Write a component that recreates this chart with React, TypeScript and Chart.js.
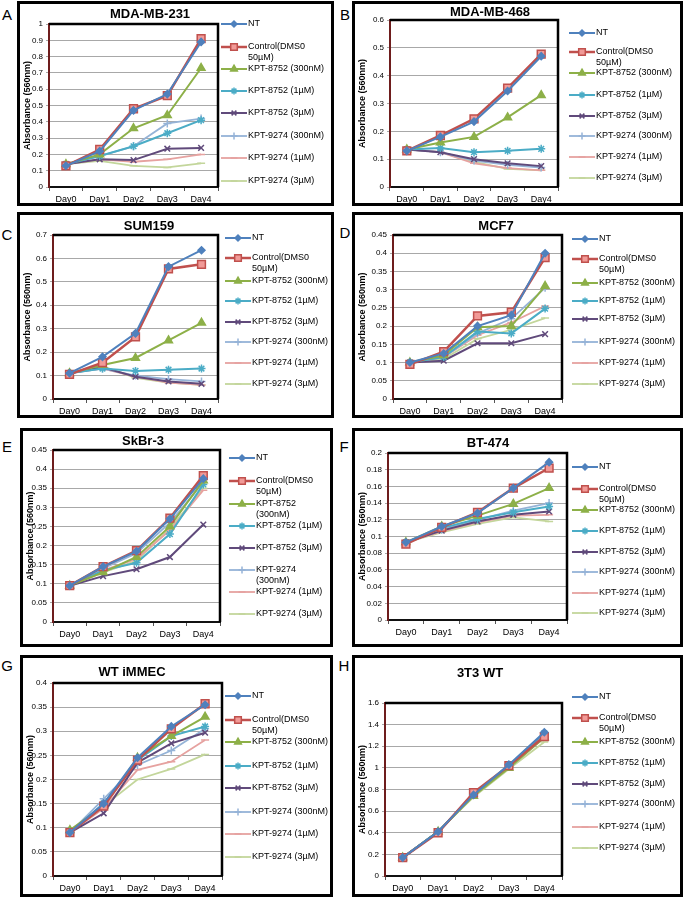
import React, { useEffect, useRef } from "react";
import { Chart, registerables } from "chart.js";
import { drawPoint } from "chart.js/helpers";
Chart.register(...registerables);

const FONT = "'Liberation Sans', Arial, sans-serif";
Chart.defaults.font.family = FONT;

// ---------- data ----------
const DAYS = ["Day0", "Day1", "Day2", "Day3", "Day4"];
const SERIES_LABELS = [
  "NT",
  "Control(DMS0\n50µM)",
  "KPT-8752 (300nM)",
  "KPT-8752 (1µM)",
  "KPT-8752 (3µM)",
  "KPT-9274 (300nM)",
  "KPT-9274 (1µM)",
  "KPT-9274 (3µM)",
];
const AXIS_TITLE = "Absorbance (560nm)";
const PANEL_TITLES = ["MDA-MB-231", "MDA-MB-468", "SUM159", "MCF7", "SkBr-3", "BT-474", "WT iMMEC", "3T3 WT"];
const PANEL_LETTERS = ["A", "B", "C", "D", "E", "F", "G", "H"];
const Y_MAX = [1, 0.6, 0.7, 0.45, 0.45, 0.2, 0.4, 1.6];
const Y_STEP = [0.1, 0.1, 0.1, 0.05, 0.05, 0.02, 0.05, 0.2];

// series order: NT, Control, 8752 300nM, 8752 1µM, 8752 3µM, 9274 300nM, 9274 1µM, 9274 3µM
const MDA231 = [
  [0.13, 0.22, 0.47, 0.57, 0.89],
  [0.13, 0.23, 0.48, 0.56, 0.91],
  [0.14, 0.2, 0.36, 0.44, 0.73],
  [0.14, 0.19, 0.25, 0.33, 0.41],
  [0.14, 0.17, 0.165, 0.235, 0.24],
  [0.14, 0.19, 0.25, 0.39, 0.42],
  [0.14, 0.17, 0.155, 0.17, 0.2],
  [0.14, 0.16, 0.13, 0.12, 0.145],
];
const MDA468 = [
  [0.13, 0.18, 0.235, 0.345, 0.47],
  [0.13, 0.185, 0.245, 0.355, 0.477],
  [0.135, 0.16, 0.18, 0.25, 0.33],
  [0.135, 0.14, 0.125, 0.13, 0.137],
  [0.135, 0.125, 0.1, 0.085, 0.075],
  [0.135, 0.125, 0.095, 0.08, 0.07],
  [0.135, 0.125, 0.085, 0.068, 0.06],
  [0.135, 0.125, 0.09, 0.065, 0.06],
];
const SUM159 = [
  [0.11, 0.18, 0.28, 0.565, 0.635],
  [0.105, 0.155, 0.265, 0.555, 0.575],
  [0.11, 0.145, 0.175, 0.25, 0.325],
  [0.11, 0.13, 0.12, 0.125, 0.13],
  [0.11, 0.135, 0.095, 0.075, 0.065],
  [0.11, 0.13, 0.1, 0.085, 0.075],
  [0.11, 0.13, 0.095, 0.07, 0.06],
  [0.11, 0.14, 0.09, 0.07, 0.06],
];
const MCF7 = [
  [0.1, 0.125, 0.2, 0.23, 0.4],
  [0.095, 0.13, 0.228, 0.238, 0.388],
  [0.1, 0.12, 0.197, 0.2, 0.31],
  [0.1, 0.115, 0.185, 0.18, 0.248],
  [0.1, 0.105, 0.153, 0.153, 0.178],
  [0.1, 0.115, 0.18, 0.22, 0.305],
  [0.1, 0.115, 0.175, 0.21, 0.255],
  [0.1, 0.11, 0.165, 0.19, 0.222],
];
const SKBR3 = [
  [0.095, 0.145, 0.185, 0.27, 0.375],
  [0.095, 0.145, 0.187, 0.272, 0.383],
  [0.095, 0.13, 0.17, 0.25, 0.37],
  [0.095, 0.135, 0.155, 0.23, 0.36],
  [0.095, 0.12, 0.138, 0.17, 0.255],
  [0.095, 0.14, 0.18, 0.26, 0.365],
  [0.095, 0.135, 0.165, 0.24, 0.345],
  [0.095, 0.13, 0.16, 0.245, 0.35],
];
const BT474 = [
  [0.093, 0.112, 0.128, 0.158, 0.189],
  [0.091, 0.111, 0.129, 0.158, 0.182],
  [0.093, 0.112, 0.125, 0.139, 0.158],
  [0.093, 0.11, 0.121, 0.129, 0.136],
  [0.093, 0.107, 0.118, 0.126, 0.13],
  [0.093, 0.108, 0.12, 0.131, 0.14],
  [0.093, 0.106, 0.117, 0.125, 0.126],
  [0.093, 0.105, 0.115, 0.123, 0.118],
];
const IMMEC = [
  [0.09, 0.15, 0.245, 0.31, 0.355],
  [0.09, 0.145, 0.24, 0.305, 0.357],
  [0.095, 0.145, 0.245, 0.29, 0.33],
  [0.09, 0.15, 0.24, 0.29, 0.31],
  [0.09, 0.13, 0.235, 0.275, 0.297],
  [0.09, 0.16, 0.23, 0.26, 0.305],
  [0.09, 0.14, 0.22, 0.237, 0.282],
  [0.09, 0.145, 0.2, 0.222, 0.252],
];
const T3T3 = [
  [0.17, 0.41, 0.75, 1.03, 1.33],
  [0.17, 0.4, 0.77, 1.02, 1.29],
  [0.17, 0.41, 0.74, 1.0, 1.28],
  [0.17, 0.41, 0.75, 1.02, 1.32],
  [0.17, 0.41, 0.75, 1.01, 1.29],
  [0.17, 0.41, 0.75, 1.02, 1.31],
  [0.17, 0.41, 0.76, 1.0, 1.28],
  [0.17, 0.41, 0.73, 0.99, 1.24],
];
const PANEL_DATA = [MDA231, MDA468, SUM159, MCF7, SKBR3, BT474, IMMEC, T3T3];

// ---------- styles ----------
const COLORS = ["#4F81BD", "#C0504D", "#8DB048", "#4BACC6", "#604A7B", "#95B3D7", "#E6A2A0", "#C3D69B"];
const FILLS = ["#4F81BD", "#F19A97", "#8DB048", "#4BACC6", "#604A7B", "#95B3D7", "#E6A2A0", "#C3D69B"];
const POINT_STYLES = ["rectRot", "rect", "triangle", "star", "crossRot", "cross", "line", "line"];
const POINT_RADII = [3.5, 5.5, 4.5, 4, 4, 4, 4, 4];
const LINE_WIDTHS = [2, 2.5, 2, 2, 2, 1.8, 1.8, 1.8];

// ---------- layout ----------
type Layout = {
  box: number[];
  plot: number[];
  title: number[];
  letter: number[];
  legendX: number;
  legendY: number[];
  wrap?: boolean;
};
const LAYOUTS: Layout[] = [
  { box: [17, 1, 334, 206], plot: [49, 24, 218, 187], title: [150, 14], letter: [7, 15], legendX: 221, legendY: [24, 47, 69, 91, 113, 136, 158, 181] },
  { box: [352, 1, 683, 206], plot: [390, 20, 558, 187], title: [490, 12], letter: [345, 15], legendX: 569, legendY: [33, 52, 73, 95, 116, 136, 157, 178] },
  { box: [17, 212, 334, 418], plot: [53, 235, 218, 399], title: [149, 226], letter: [7, 235], legendX: 225, legendY: [238, 258, 281, 301, 322, 342, 363, 384] },
  { box: [352, 212, 683, 418], plot: [393, 235, 562, 399], title: [496, 226], letter: [345, 233], legendX: 572, legendY: [239, 259, 283, 301, 319, 342, 363, 384] },
  { box: [20, 428, 333, 647], plot: [53, 450, 220, 622], title: [143, 441], letter: [7, 447], legendX: 229, legendY: [458, 481, 504, 526, 548, 570, 592, 614], wrap: true },
  { box: [352, 428, 683, 647], plot: [388, 453, 567, 620], title: [488, 443], letter: [344, 447], legendX: 572, legendY: [467, 489, 510, 531, 552, 572, 593, 613] },
  { box: [20, 655, 333, 897], plot: [53, 683, 222, 876], title: [132, 672], letter: [7, 666], legendX: 225, legendY: [696, 720, 742, 766, 788, 812, 834, 857] },
  { box: [352, 655, 683, 897], plot: [385, 703, 562, 876], title: [480, 673], letter: [344, 666], legendX: 572, legendY: [697, 718, 742, 763, 784, 804, 827, 848] },
];

const fmt = (v: number) => parseFloat(Number(v).toFixed(4)).toString();

function Panel({ idx }: { idx: number }) {
  const ref = useRef<HTMLCanvasElement | null>(null);
  const lay = LAYOUTS[idx];
  const [bx0, by0, bx1, by1] = lay.box;
  const w = bx1 - bx0;
  const h = by1 - by0;

  useEffect(() => {
    const [L, T, R, B] = lay.plot;
    const padL = 4;
    const padB = 3;

    const decor = {
      id: "decor" + idx,
      beforeDatasetsDraw(chart: any) {
        const { ctx, chartArea } = chart;
        ctx.save();
        ctx.strokeStyle = "#000";
        ctx.lineWidth = 2.5;
        ctx.beginPath();
        ctx.moveTo(chartArea.left, chartArea.top);
        ctx.lineTo(chartArea.right, chartArea.top);
        ctx.lineTo(chartArea.right, chartArea.bottom);
        ctx.stroke();
        ctx.restore();
      },
      afterDraw(chart: any) {
        const { ctx } = chart;
        ctx.save();
        // panel box
        ctx.strokeStyle = "#000";
        ctx.lineWidth = 3;
        ctx.strokeRect(1.5, 1.5, w - 3, h - 3);
        // title
        ctx.fillStyle = "#000";
        ctx.font = `bold 13px ${FONT}`;
        ctx.textAlign = "center";
        ctx.textBaseline = "middle";
        ctx.fillText(PANEL_TITLES[idx], lay.title[0] - bx0, lay.title[1] - by0);
        // legend
        ctx.font = `9px ${FONT}`;
        ctx.textAlign = "left";
        chart.data.datasets.forEach((ds: any, i: number) => {
          const y = lay.legendY[i] - by0;
          const x = lay.legendX - bx0;
          ctx.strokeStyle = ds.borderColor;
          ctx.lineWidth = ds.borderWidth;
          ctx.beginPath();
          ctx.moveTo(x, y);
          ctx.lineTo(x + 26, y);
          ctx.stroke();
          ctx.fillStyle = ds.pointBackgroundColor;
          ctx.strokeStyle = ds.pointBorderColor;
          ctx.lineWidth = 1.5;
          drawPoint(ctx, { pointStyle: ds.pointStyle, radius: ds.pointRadius * 0.85, rotation: 0, borderWidth: 1.5 }, x + 13, y);
          let label: string = ds.label;
          if (lay.wrap) label = label.replace(" (300nM)", "\n(300nM)");
          ctx.fillStyle = "#000";
          label.split("\n").forEach((line, k) => {
            ctx.fillText(line, x + 27, y + k * 10.5);
          });
        });
        ctx.restore();
      },
    };

    const chart = new Chart(ref.current as HTMLCanvasElement, {
      type: "line",
      data: {
        labels: DAYS,
        datasets: PANEL_DATA[idx].map((vals, i) => ({
          label: SERIES_LABELS[i],
          data: vals,
          borderColor: COLORS[i],
          backgroundColor: FILLS[i],
          pointBackgroundColor: FILLS[i],
          pointBorderColor: COLORS[i],
          pointStyle: POINT_STYLES[i],
          pointRadius: POINT_RADII[i],
          pointBorderWidth: 1.5,
          borderWidth: LINE_WIDTHS[i],
          tension: 0,
          fill: false,
        })),
      },
      options: {
        animation: false,
        responsive: false,
        devicePixelRatio: 1,
        layout: { padding: { left: padL, top: T - by0, right: bx1 - R, bottom: padB } },
        plugins: { legend: { display: false }, title: { display: false }, tooltip: { enabled: false } },
        scales: {
          x: {
            offset: true,
            grid: { display: true, drawOnChartArea: false, offset: true, tickLength: 4, color: "#555", lineWidth: 1 },
            border: { display: true, color: "#111", width: 2 },
            ticks: { font: { size: 9 }, color: "#000", padding: 3, maxRotation: 0, autoSkip: false },
            afterFit: (s: any) => {
              s.height = by1 - B - padB;
            },
          },
          y: {
            min: 0,
            max: Y_MAX[idx],
            ticks: {
              stepSize: Y_STEP[idx],
              font: { size: 8 },
              color: "#000",
              padding: 3,
              callback: (v: any) => fmt(v),
            },
            grid: { color: "#a8a8a8", lineWidth: 1, tickLength: 3 },
            border: { display: true, color: "#6e1d1d", width: 2 },
            title: { display: true, text: AXIS_TITLE, font: { size: 9, weight: "bold" }, color: "#000", padding: { top: 1, bottom: 0 } },
            afterFit: (s: any) => {
              s.width = L - bx0 - padL;
            },
          },
        },
      },
      plugins: [decor],
    });
    return () => chart.destroy();
  }, []);

  return (
    <>
      <canvas
        ref={ref}
        width={w}
        height={h}
        style={{ position: "absolute", left: bx0, top: by0, width: w, height: h }}
      />
      <div
        style={{
          position: "absolute",
          left: lay.letter[0] - 6,
          top: lay.letter[1] - 9,
          width: 12,
          textAlign: "center",
          font: `15px ${FONT}`,
          lineHeight: "18px",
          color: "#000",
        }}
      >
        {PANEL_LETTERS[idx]}
      </div>
    </>
  );
}

export default function App() {
  return (
    <div style={{ position: "absolute", left: 0, top: 0, width: 685, height: 900, background: "#fff", overflow: "hidden" }}>
      {LAYOUTS.map((_, i) => (
        <Panel key={i} idx={i} />
      ))}
    </div>
  );
}
